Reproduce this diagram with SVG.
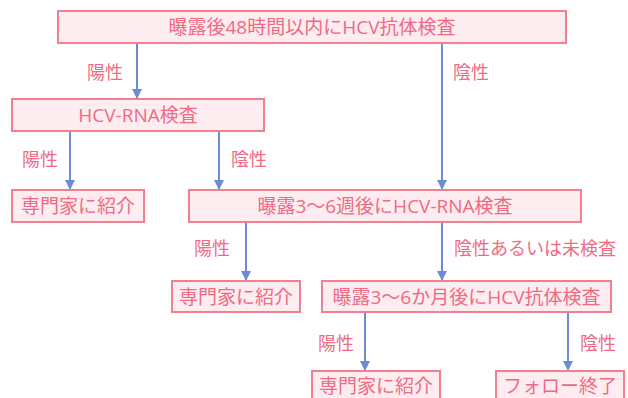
<svg xmlns="http://www.w3.org/2000/svg" width="628" height="398" viewBox="0 0 628 398">
<style>
.box{fill:#fdedf0;stroke:#f27f90;stroke-width:2}
.t{font-family:"Open Sans","Noto Sans CJK JP",sans-serif;font-size:19px;fill:#ef6a84;text-anchor:middle;dominant-baseline:central}
.l{font-family:"Open Sans","Noto Sans CJK JP",sans-serif;font-size:18px;fill:#ef6a84;dominant-baseline:central}
.c{stroke:#6b8cd1;stroke-width:2;fill:none}
</style>
<defs>
<marker id="ah" markerWidth="10" markerHeight="10" refX="9" refY="5" orient="auto" markerUnits="userSpaceOnUse">
<path d="M0,0 L10,5 L0,10 Z" fill="#6b8cd1"/>
</marker>
</defs>
<g id="connectors">
<line class="c" x1="137" y1="43" x2="137" y2="98" marker-end="url(#ah)"/>
<line class="c" x1="442" y1="43" x2="442" y2="189" marker-end="url(#ah)"/>
<line class="c" x1="70" y1="131" x2="70" y2="189" marker-end="url(#ah)"/>
<line class="c" x1="219" y1="131" x2="219" y2="189" marker-end="url(#ah)"/>
<line class="c" x1="246" y1="222" x2="246" y2="280" marker-end="url(#ah)"/>
<line class="c" x1="442" y1="222" x2="442" y2="280" marker-end="url(#ah)"/>
<line class="c" x1="365" y1="312" x2="365" y2="370" marker-end="url(#ah)"/>
<line class="c" x1="568" y1="312" x2="568" y2="370" marker-end="url(#ah)"/>
<text class="l" x="87" y="72">陽性</text>
<text class="l" x="453" y="72">陰性</text>
<text class="l" x="22" y="159">陽性</text>
<text class="l" x="231" y="159">陰性</text>
<text class="l" x="194" y="248">陽性</text>
<text class="l" x="454" y="248">陰性あるいは未検査</text>
<text class="l" x="318" y="343">陽性</text>
<text class="l" x="580" y="343">陰性</text>
</g>
<g id="n1"><rect class="box" x="58" y="11" width="508" height="32"/><text class="t" x="312" y="27">曝露後48時間以内にHCV抗体検査</text></g>
<g id="n2"><rect class="box" x="12" y="99" width="252" height="32"/><text class="t" x="138" y="115">HCV-RNA検査</text></g>
<g id="n3"><rect class="box" x="12" y="190" width="132" height="32"/><text class="t" x="78" y="206">専門家に紹介</text></g>
<g id="n4"><rect class="box" x="189" y="190" width="392" height="32"/><text class="t" x="385" y="206">曝露3〜6週後にHCV-RNA検査</text></g>
<g id="n5"><rect class="box" x="172" y="281" width="128" height="31"/><text class="t" x="236" y="296.5">専門家に紹介</text></g>
<g id="n6"><rect class="box" x="322" y="281" width="289" height="31"/><text class="t" x="466.5" y="296.5">曝露3〜6か月後にHCV抗体検査</text></g>
<g id="n7"><rect class="box" x="312" y="371" width="128" height="34"/><text class="t" x="376" y="386">専門家に紹介</text></g>
<g id="n8"><rect class="box" x="496" y="371" width="128" height="34"/><text class="t" x="560" y="386">フォロー終了</text></g>
</svg>
